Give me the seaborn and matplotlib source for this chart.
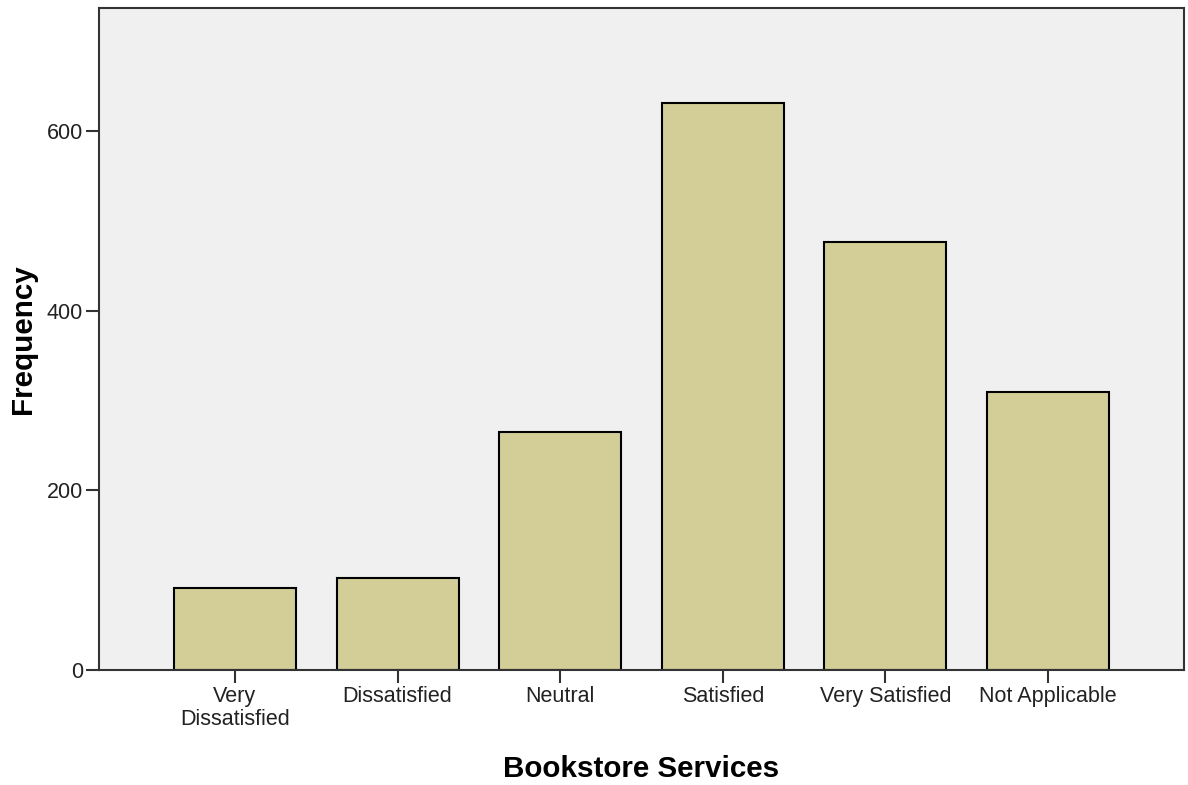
import matplotlib
matplotlib.use("Agg")
import matplotlib.pyplot as plt
import seaborn as sns
import pandas as pd

# Bookstore services ratings
categories = ["Very\nDissatisfied", "Dissatisfied", "Neutral", "Satisfied",
              "Very Satisfied", "Not Applicable"]
frequency = [91, 102, 265, 631, 476, 309]
y_ticks = [0, 200, 400, 600]

df = pd.DataFrame({"category": categories, "frequency": frequency})

sns.set_style("white")
plt.rcParams["font.family"] = ["Liberation Sans", "DejaVu Sans"]

fig = plt.figure(figsize=(11.88, 7.85), dpi=100)
ax = fig.add_axes([0.0833, 0.1465, 0.9133, 0.8433])
ax.set_facecolor("#f0f0f0")

sns.barplot(data=df, x="category", y="frequency", color="#d3ce97",
            saturation=1, width=0.75, edgecolor="black", linewidth=1.5, ax=ax)

ax.set_xlim(-0.836, 5.836)
ax.set_ylim(0, 737)
ax.set_yticks(y_ticks)
ax.set_xlabel("Bookstore Services", fontsize=21.3, fontweight="bold", color="black")
ax.set_ylabel("Frequency", fontsize=21.3, fontweight="bold", color="black")
ax.xaxis.set_label_coords(0.5, -0.128)
ax.yaxis.set_label_coords(-0.057, 0.5)
ax.tick_params(axis="both", labelsize=15.5, length=9.5, width=1.5, pad=2,
               direction="out", color="#333333", labelcolor="#222222",
               left=True, bottom=True)
for lbl in ax.get_xticklabels():
    lbl.set_linespacing(1.1)
for s in ax.spines.values():
    s.set_color("#333333")
    s.set_linewidth(1.5)

fig.savefig("out.png", dpi=100)
